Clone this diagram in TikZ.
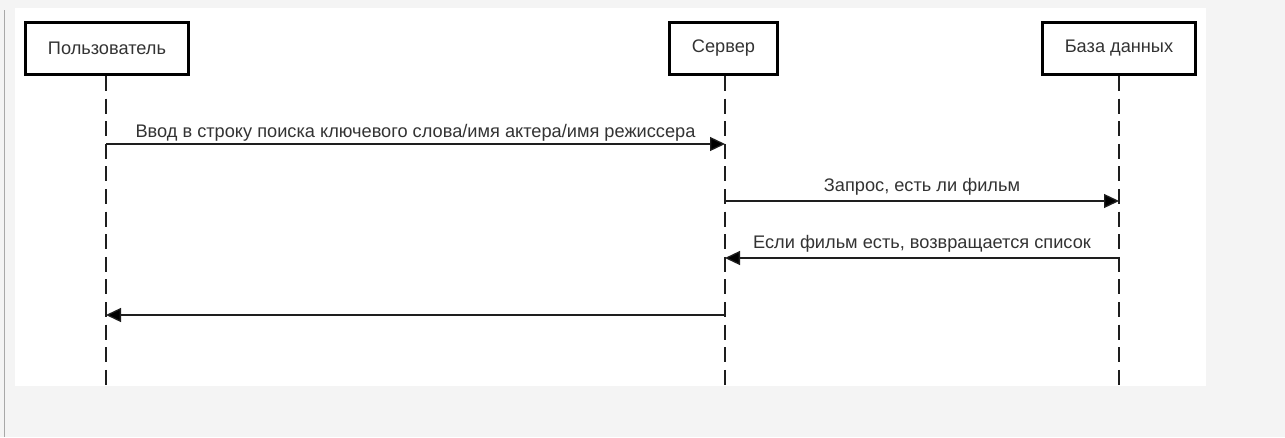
\documentclass[tikz,border=0pt]{standalone}
\usepackage{fontspec}
\setmainfont{Liberation Sans}
\usetikzlibrary{arrows.meta}
\definecolor{bg}{HTML}{F4F4F4}
\definecolor{ink}{HTML}{1E1E1E}
\definecolor{txt}{HTML}{333333}
\definecolor{edge}{HTML}{A8A8A8}
\begin{document}
\begin{tikzpicture}[x=1pt,y=-1pt,
  actor/.style={draw=black, line width=2.6pt, fill=white, minimum height=52.5pt, inner sep=0pt, text=txt, font=\fontsize{18.2}{20}\selectfont},
  life/.style={draw=ink, line width=1.4pt, dash pattern=on 15pt off 7.6pt},
  msg/.style={draw=ink, line width=1.3pt, -{Triangle[length=15pt,width=14pt,fill=black]}},
  lbl/.style={text=txt, font=\fontsize{18.2}{20}\selectfont, inner sep=0pt, anchor=base}]
\fill[bg] (0,0) rectangle (1285,437);
\useasboundingbox (0,0) rectangle (1285,437);
\draw[edge, line width=1pt] (4.5,10) -- (4.5,437);
\fill[white] (15,8) rectangle (1206,386);
% lifelines
\coordinate (uEnd) at (106,386);
\coordinate (sEnd) at (725,386);
\coordinate (dEnd) at (1119,386);
\draw[life] (106,76) -- (uEnd);
\draw[life] (725,76) -- (sEnd);
\draw[life] (1119,76) -- (dEnd);
% actors
\node[actor, minimum width=163.4pt] (user) at (107,48.5) {Пользователь};
\node[actor, minimum width=108.4pt] (srv) at (723.5,48.5) {Сервер};
\node[actor, minimum width=153.4pt] (db) at (1119,48.5) {База данных};
% message anchors
\coordinate (u1) at (106,144);
\coordinate (s1) at (725,144);
\coordinate (s2) at (725,201);
\coordinate (d2) at (1119,201);
\coordinate (d3) at (1119,258);
\coordinate (s3) at (725,258);
\coordinate (s4) at (725,315);
\coordinate (u4) at (106,315);
\draw[msg] (u1) -- (s1);
\node[lbl] (l1) at (415.5,137) {Ввод в строку поиска ключевого слова/имя актера/имя режиссера};
\draw[msg] (s2) -- (d2);
\node[lbl] (l2) at (922,191) {Запрос, есть ли фильм};
\draw[msg] (d3) -- (s3);
\node[lbl] (l3) at (922,248) {Если фильм есть, возвращается список};
\draw[msg] (s4) -- (u4);
\end{tikzpicture}
\end{document}
